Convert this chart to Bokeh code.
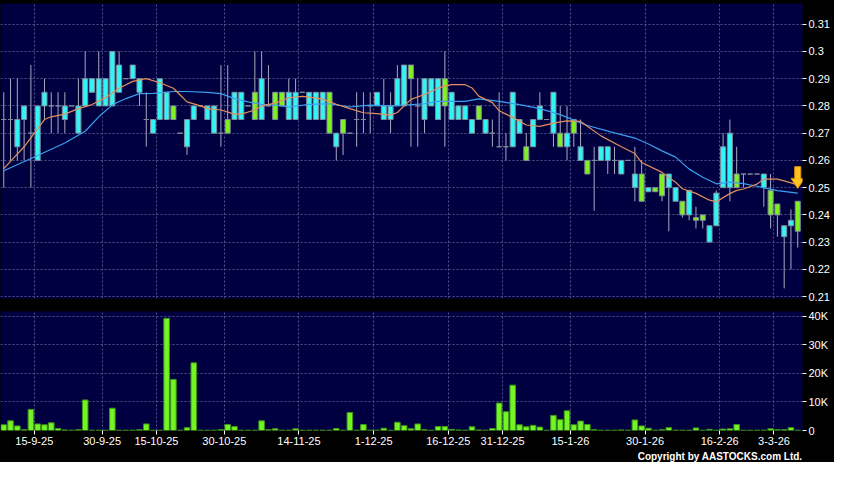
from bokeh.plotting import figure
from bokeh.layouts import column
from bokeh.models import ColumnDataSource, FixedTicker, Range1d, Title, CustomJSTickFormatter
from bokeh.embed import file_html
from bokeh.resources import INLINE

# ---------------- data ----------------
opens = [.275,.275,.265,.275,.27,.26,.28,.28,.28,.275,.28,.27,.28,.285,.28,.28,.28,.285,.29,.29,
         .285,.275,.27,.275,.275,.28,.27,.265,.275,.28,.275,.27,.27,.275,.275,.275,.28,.285,.275,.28,
         .285,.285,.275,.275,.285,.275,.275,.275,.285,.265,.275,.27,.275,.275,.28,.28,.275,.275,.28,.28,
         .295,.28,.275,.28,.275,.29,.275,.275,.275,.27,.28,.27,.27,.265,.265,.265,.27,.265,.265,.275,
         .275,.27,.27,.265,.275,.26,.26,.26,.26,.26,.26,.255,.26,.25,.255,.2485,.25,.255,.25,.245,
         .245,.24,.239,.24,.23,.236,.25,.25,.255,.255,.255,.255,.25,.249,.244,.232,.236,.245]
highs = [.285,.29,.29,.28,.295,.28,.29,.285,.285,.285,.28,.29,.30,.29,.30,.29,.30,.30,.29,.295,
         .29,.285,.275,.29,.285,.28,.27,.275,.28,.28,.28,.28,.295,.295,.285,.285,.28,.30,.30,.295,
         .285,.285,.29,.29,.285,.285,.285,.285,.285,.27,.275,.27,.285,.285,.285,.285,.29,.285,.295,.295,
         .295,.29,.29,.29,.29,.30,.285,.28,.28,.275,.28,.275,.275,.285,.27,.285,.275,.27,.275,.285,
         .275,.285,.28,.28,.275,.275,.26,.265,.265,.265,.265,.26,.26,.265,.26,.25,.25,.255,.255,.25,
         .245,.249,.243,.24,.236,.249,.27,.275,.265,.255,.255,.255,.255,.255,.244,.236,.242,.245]
lows = [.25,.26,.26,.26,.25,.26,.275,.27,.27,.27,.28,.27,.28,.285,.28,.28,.28,.285,.29,.29,
        .28,.265,.27,.275,.275,.275,.27,.262,.275,.28,.275,.27,.265,.27,.275,.275,.28,.275,.275,.28,
        .275,.28,.275,.275,.285,.275,.275,.275,.27,.26,.262,.27,.265,.27,.27,.28,.275,.27,.28,.28,
        .265,.265,.27,.28,.275,.265,.275,.275,.275,.27,.275,.27,.265,.265,.26,.265,.27,.26,.265,.275,
        .275,.265,.265,.26,.265,.26,.255,.2415,.26,.255,.255,.255,.26,.245,.245,.2485,.2485,.245,.234,.245,
        .239,.238,.235,.235,.23,.236,.25,.245,.25,.25,.255,.255,.243,.235,.232,.213,.22,.228]
closes = [.275,.275,.275,.28,.27,.28,.285,.28,.28,.28,.28,.28,.29,.29,.29,.29,.30,.295,.29,.295,
          .29,.275,.275,.29,.285,.275,.27,.275,.28,.28,.28,.28,.27,.27,.285,.285,.28,.275,.29,.28,
          .275,.28,.285,.285,.285,.285,.285,.285,.27,.27,.27,.27,.275,.275,.28,.285,.28,.28,.29,.295,
          .29,.28,.29,.29,.29,.28,.285,.28,.28,.275,.275,.275,.27,.265,.265,.285,.275,.26,.275,.28,
          .275,.285,.265,.27,.27,.265,.255,.26,.265,.265,.26,.26,.26,.255,.245,.25,.2485,.247,.255,.25,
          .24,.249,.238,.238,.236,.248,.265,.27,.25,.255,.255,.255,.255,.24,.24,.236,.238,.234]
volumes = [2.0,3.4,1.6,0.3,7.4,2.3,2.0,2.7,0.7,0.2,0.1,0.3,10.7,0.1,0.1,0.1,7.8,0.1,0.1,0.1,
           0.3,2.3,0.1,0.1,39.3,17.9,0.1,1.0,23.7,0.1,0.1,0.1,0.3,2.1,1.4,0.1,0.1,0.1,3.4,0.3,
           0.6,0.1,0.1,0.6,0.1,0.1,0.1,0.1,0.1,0.7,0.1,6.3,0.1,2.1,0.1,0.1,0.8,0.1,2.9,1.7,
           0.6,2.3,0.3,0.1,1.4,1.4,0.4,0.2,0.1,1.3,0.2,0.1,0.7,9.6,6.6,15.9,2.0,1.3,1.8,1.2,
           0.1,5.3,3.8,6.9,2.0,3.3,2.1,0.3,0.1,0.1,0.1,0.2,0.1,3.7,1.6,0.8,0.1,0.3,1.0,0.1,
           0.1,0.1,0.9,0.1,0.4,0.1,0.5,0.6,2.1,0.1,0.1,0.1,0.1,0.6,0.3,0.3,1.0,0.1]  # thousands

ma10_idx = [0,3,6,7,9,11,13,15,17,19,21,23,25,26,27,29,30,32,34,35,37,38,40,42,44,45,47,49,51,53,
            55,57,58,59,60,62,64,66,68,69,70,72,73,74,75,77,79,81,83,85,86,88,91,93,94,97,99,100,
            102,104,105,107,108,109,111,112,114,115,117]
ma10_val = [.257,.265,.275,.276,.277,.279,.2805,.283,.2865,.289,.29,.2885,.2865,.284,.2815,.28,.279,
            .2785,.277,.277,.2785,.28,.281,.283,.2835,.2832,.2825,.2806,.279,.2775,.2772,.2766,.2776,
            .28,.2824,.2842,.2866,.2878,.2878,.2866,.2836,.2812,.2782,.277,.2758,.273,.2725,.2737,
            .2745,.2743,.2725,.269,.265,.2625,.2592,.2556,.252,.2496,.2479,.2454,.2448,.2478,.249,
            .2495,.2513,.2531,.2531,.2525,.251]
ma20_idx = [0,5,9,12,14,16,18,20,22,25,27,30,32,34,36,38,40,42,45,48,51,54,57,59,62,64,66,68,70,
            73,76,79,82,84,86,90,93,95,97,99,101,103,105,107,109,111,114,117]
ma20_val = [.2562,.2618,.2664,.2707,.276,.2804,.2827,.2845,.2846,.2853,.2853,.285,.2845,.2827,.2815,
            .2806,.2803,.2796,.2806,.2808,.2796,.2803,.28,.2803,.2808,.2817,.2817,.2817,.2826,
            .2817,.2805,.279,.2768,.2748,.2728,.2701,.2682,.266,.2635,.2612,.2568,.2538,.2514,.252,
            .2515,.2505,.2489,.248]

tick_pos = [4.5, 14.5, 22.5, 32.5, 43.5, 54.5, 65.5, 73.5, 83.5, 94.5, 105.5, 113.5]
tick_lab = ["15-9-25", "30-9-25", "15-10-25", "30-10-25", "14-11-25", "1-12-25",
            "16-12-25", "31-12-25", "15-1-26", "30-1-26", "16-2-26", "3-3-26"]
price_ticks = [0.21, 0.22, 0.23, 0.24, 0.25, 0.26, 0.27, 0.28, 0.29, 0.30, 0.31]
vol_ticks = [0, 10000, 20000, 30000, 40000]
signal_idx = [117]
signal_price = [0.2497]

# ---------------- styling ----------------
NAVY = "#000040"
GRID = "#50508a"
FONT = "Liberation Sans"
UP = "#33f4f4"
DOWN = "#80f020"

N = len(opens)
idx = list(range(N))
top = [max(o, c) for o, c in zip(opens, closes)]
bot = [min(o, c) for o, c in zip(opens, closes)]
col = [UP if c >= o else DOWN for o, c in zip(opens, closes)]
src = ColumnDataSource(dict(x=idx, o=opens, h=highs, l=lows, c=closes, top=top, bot=bot, col=col,
                            v=[a * 1000 for a in volumes]))

xr = Range1d(-0.48, 117.7)


def style_axis(a):
    a.axis_line_color = None
    a.major_tick_out = 4
    a.major_tick_in = 0
    a.minor_tick_line_color = None
    a.major_tick_line_color = "white"
    a.major_label_text_color = "white"
    a.major_label_text_font = FONT
    a.major_label_text_font_size = "11px"
    a.major_label_standoff = 2


p = figure(width=834, height=306, x_range=xr, y_range=Range1d(0.2093, 0.3176),
           output_backend="svg", toolbar_location=None, y_axis_location="right",
           x_axis_location="below", min_border_left=0, min_border_right=32,
           min_border_top=3, min_border_bottom=8,
           background_fill_color=NAVY, border_fill_color="black", outline_line_color=None,
           styles={"background-color": "black"})
p.xaxis.ticker = FixedTicker(ticks=tick_pos)
p.xaxis.visible = False
p.xgrid.ticker = FixedTicker(ticks=tick_pos)
p.ygrid.ticker = FixedTicker(ticks=price_ticks)
for g in [p.xgrid[0], p.ygrid[0]]:
    g.grid_line_color = GRID
    g.grid_line_dash = "2 2"

ax = p.yaxis[0]
ax.ticker = FixedTicker(ticks=price_ticks)
ax.formatter = CustomJSTickFormatter(code="return tick.toFixed(2).replace(/0$/, '');")
style_axis(ax)

p.segment(x0="x", y0="l", x1="x", y1="h", source=src, line_color="#a8a8bc", line_width=1)
p.vbar(x="x", width=0.74, top="top", bottom="bot", source=src, fill_color="col",
       line_color="#7c8c9c", line_width=1)
p.line(ma20_idx, ma20_val, line_color="#3aa0f0", line_width=1.2)
p.line(ma10_idx, ma10_val, line_color="#e0905c", line_width=1.2)

# signal arrow built from the signal point
xs, ys = [], []
for si, sp in zip(signal_idx, signal_price):
    base = sp + 0.0037
    topy = base + 0.0043
    xs.append([si - 0.45, si + 0.45, si + 0.45, si + 1.0, si, si - 1.0, si - 0.45])
    ys.append([topy, topy, base, base, sp, base, base])
p.patches(xs, ys, fill_color="#ffc020", line_color="#d89000", line_width=1)

# ---------------- volume ----------------
v = figure(width=834, height=156, x_range=xr, y_range=Range1d(0, 41700),
           output_backend="svg", toolbar_location=None, y_axis_location="right",
           min_border_left=0, min_border_right=32, min_border_top=5, min_border_bottom=0,
           background_fill_color=NAVY, border_fill_color="black", outline_line_color=None,
           styles={"background-color": "black"})
v.vbar(x="x", width=0.82, top="v", bottom=0, source=src, fill_color="#74f424",
       line_color="#3c9418", line_width=1)

v.xaxis.ticker = FixedTicker(ticks=tick_pos)
v.xaxis.formatter = CustomJSTickFormatter(args=dict(pos=tick_pos, lab=tick_lab),
    code="const i = pos.indexOf(tick); return i >= 0 ? lab[i] : '';")
v.yaxis.ticker = FixedTicker(ticks=vol_ticks)
v.yaxis.formatter = CustomJSTickFormatter(code="return tick == 0 ? '0' : (tick/1000).toFixed(0) + 'K';")
for g in [v.xgrid[0], v.ygrid[0]]:
    g.grid_line_color = GRID
    g.grid_line_dash = "2 2"
style_axis(v.xaxis[0])
style_axis(v.yaxis[0])

v.add_layout(Title(text="Copyright by AASTOCKS.com Ltd.", align="right", text_color="white",
                   text_font=FONT, text_font_size="10px", text_font_style="bold",
                   standoff=2), "below")

layout = column(p, v, spacing=0, styles={"background-color": "black"})
open("out.html", "w").write(file_html(layout, INLINE))
